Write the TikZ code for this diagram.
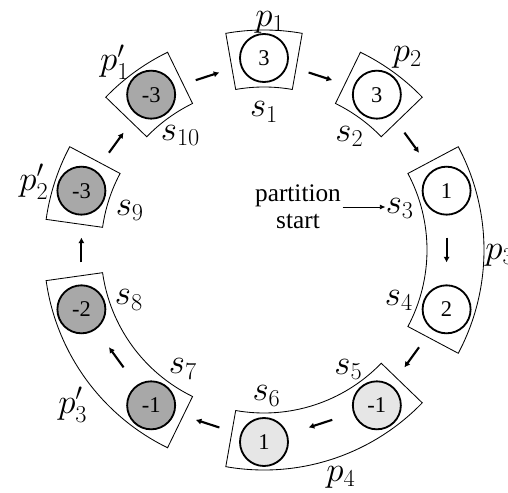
\documentclass[tikz,border=0pt]{standalone}
\usepackage{fontspec}
\setmainfont{Liberation Serif}
\usetikzlibrary{arrows.meta}
\definecolor{GrisOscuro}{RGB}{168,168,168}
\definecolor{GrisClaro}{RGB}{230,230,230}

\begin{document}
\begin{tikzpicture}[>={Latex[length=4pt,width=4.5pt]},
    slot/.style={circle, draw, line width=1.3pt, minimum size=1.2cm,
        inner sep=0pt, font=\fontsize{16}{18}\selectfont},
    caja/.style={draw, line width=0.6pt},
    flujo/.style={->, line width=1.5pt, shorten >=0.55cm, shorten <=0.55cm},
    etiq/.style={inner sep=0pt, font=\fontsize{24}{28}\selectfont}]
    \useasboundingbox (-6.6,-6.075) rectangle (6.1,6.25);

    % partition boxes
    \draw[caja] (80:4.075) arc[start angle=80, end angle=100, radius=4.075]
        -- (100:5.5) arc[start angle=100, end angle=80, radius=5.5] -- cycle;
    \draw[caja] (44:4.075) arc[start angle=44, end angle=64, radius=4.075]
        -- (64:5.5) arc[start angle=64, end angle=44, radius=5.5] -- cycle;
    \draw[caja] (-28:4.075) arc[start angle=-28, end angle=28, radius=4.075]
        -- (28:5.5) arc[start angle=28, end angle=-28, radius=5.5] -- cycle;
    \draw[caja] (-100:4.075) arc[start angle=-100, end angle=-44, radius=4.075]
        -- (-44:5.5) arc[start angle=-44, end angle=-100, radius=5.5] -- cycle;
    \draw[caja] (-172:4.075) arc[start angle=-172, end angle=-116, radius=4.075]
        -- (-116:5.5) arc[start angle=-116, end angle=-172, radius=5.5] -- cycle;
    \draw[caja] (152:4.075) arc[start angle=152, end angle=172, radius=4.075]
        -- (172:5.5) arc[start angle=172, end angle=152, radius=5.5] -- cycle;
    \draw[caja] (116:4.075) arc[start angle=116, end angle=136, radius=4.075]
        -- (136:5.5) arc[start angle=136, end angle=116, radius=5.5] -- cycle;

    % slots of the ring
    \node[slot] (s1)  at (90:4.8)   {3};
    \node[slot] (s2)  at (54:4.8)   {3};
    \node[slot] (s3)  at (18:4.8)   {1};
    \node[slot] (s4)  at (-18:4.8)  {2};
    \node[slot, fill=GrisClaro]  (s5)  at (-54:4.8)  {-1};
    \node[slot, fill=GrisClaro]  (s6)  at (-90:4.8)  {1};
    \node[slot, fill=GrisOscuro] (s7)  at (-126:4.8) {-1};
    \node[slot, fill=GrisOscuro] (s8)  at (-162:4.8) {-2};
    \node[slot, fill=GrisOscuro] (s9)  at (162:4.8)  {-3};
    \node[slot, fill=GrisOscuro] (s10) at (126:4.8)  {-3};

    \draw[flujo] (s1) -- (s2);
    \draw[flujo] (s2) -- (s3);
    \draw[flujo] (s3) -- (s4);
    \draw[flujo] (s4) -- (s5);
    \draw[flujo] (s5) -- (s6);
    \draw[flujo] (s6) -- (s7);
    \draw[flujo] (s7) -- (s8);
    \draw[flujo] (s8) -- (s9);
    \draw[flujo] (s9) -- (s10);
    \draw[flujo] (s10) -- (s1);

    % slot labels
    \node[etiq] (ls1)  at (90:3.45)     {$s_1$};
    \node[etiq] (ls2)  at (53:3.55)     {$s_2$};
    \node[etiq] (ls3)  at (17:3.55)     {$s_3$};
    \node[etiq] (ls4)  at (-20.4:3.6)   {$s_4$};
    \node[etiq] (ls5)  at (-54.7:3.65)  {$s_5$};
    \node[etiq] (ls6)  at (-89:3.65)    {$s_6$};
    \node[etiq] (ls7)  at (-124.3:3.6)  {$s_7$};
    \node[etiq] (ls8)  at (-159.7:3.6)  {$s_8$};
    \node[etiq] (ls9)  at (163.5:3.5)   {$s_9$};
    \node[etiq] (ls10) at (126:3.55)    {$s_{10}$};

    % partition labels
    \node[etiq] (lp1)  at (88.5:5.7)  {$p_1$};
    \node[etiq] (lp2)  at (53.3:6.0)  {$p_2$};
    \node[etiq] (lp3)  at (-1.2:5.9)  {$p_3$};
    \node[etiq] (lp4)  at (-71.3:6.0) {$p_4$};
    \node[etiq] (lpp1) at (128.5:6.0) {$p'_1$};
    \node[etiq] (lpp2) at (163.5:6.0) {$p'_2$};
    \node[etiq] (lpp3) at (-141:6.15) {$p'_3$};

    \node[align=center, inner sep=1pt, font=\fontsize{18}{19.2}\selectfont]
        (inicio) at (0.85,1.075) {partition\\start};
    \draw[-{Latex[length=4pt,width=3.5pt]}, line width=0.6pt]
        (inicio.east) -- (inicio.east -| ls3.west);
\end{tikzpicture}
\end{document}
